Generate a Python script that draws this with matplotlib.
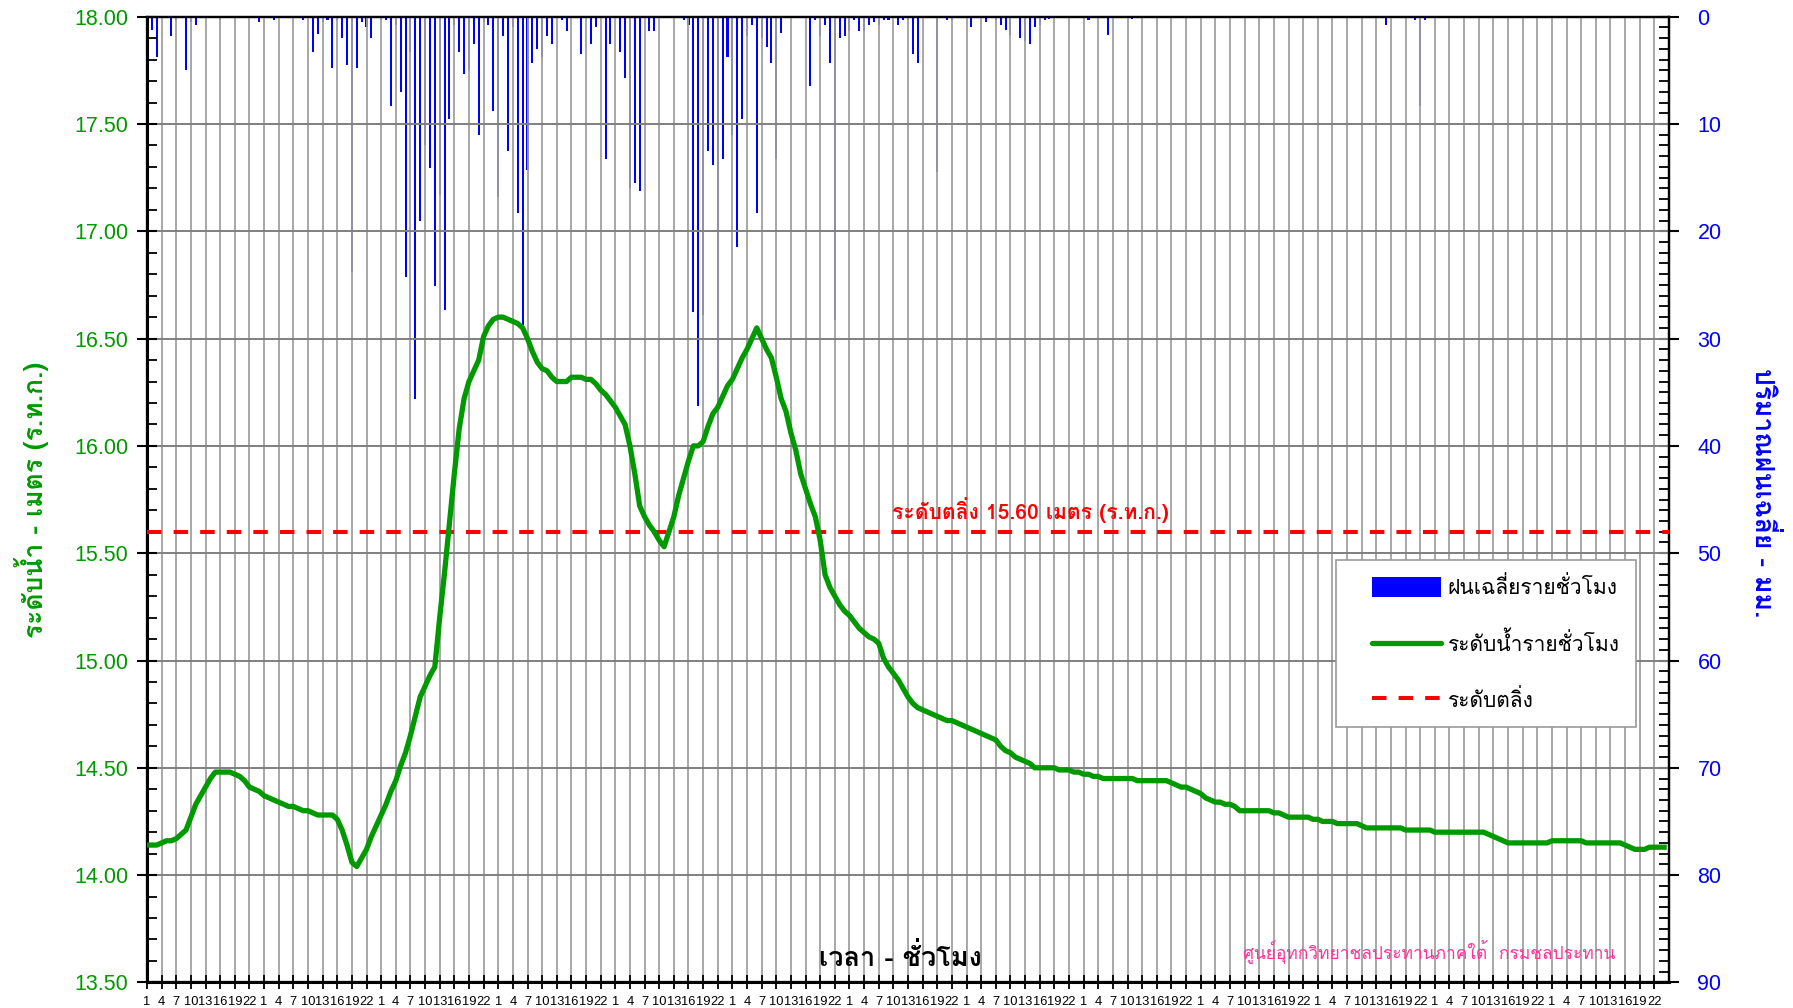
import matplotlib
matplotlib.use("Agg")
import matplotlib.pyplot as plt
from matplotlib import font_manager
from matplotlib.ft2font import FT2Font
from matplotlib.patches import Patch
from matplotlib.lines import Line2D
from matplotlib.legend_handler import HandlerPatch, HandlerLine2D
from matplotlib.ticker import MultipleLocator, FormatStrFormatter
import matplotlib.patheffects as pe
import numpy as np

# ---------------- data ----------------
hour_labels = ["1", "4", "7", "10", "13", "16", "19", "22"]
n_days = 13

level_d1 = [14.14, 14.14, 14.14, 14.15, 14.16, 14.16, 14.17, 14.19, 14.21, 14.27, 14.33, 14.37,
            14.41, 14.45, 14.48, 14.48, 14.48, 14.48, 14.47, 14.46, 14.44, 14.41, 14.40, 14.39]
level_d2 = [14.37, 14.36, 14.35, 14.34, 14.33, 14.32, 14.32, 14.31, 14.30, 14.30, 14.29, 14.28,
            14.28, 14.28, 14.28, 14.26, 14.21, 14.14, 14.06, 14.04, 14.08, 14.12, 14.18, 14.23]
level_d3 = [14.28, 14.33, 14.39, 14.44, 14.51, 14.57, 14.65, 14.74, 14.83, 14.88, 14.93, 14.97,
            15.20, 15.41, 15.64, 15.87, 16.08, 16.22, 16.30, 16.35, 16.40, 16.51, 16.56, 16.59]
level_d4 = [16.60, 16.60, 16.59, 16.58, 16.57, 16.55, 16.50, 16.44, 16.39, 16.36, 16.35, 16.32,
            16.30, 16.30, 16.30, 16.32, 16.32, 16.32, 16.31, 16.31, 16.29, 16.26, 16.24, 16.21]
level_d5 = [16.18, 16.14, 16.10, 16.00, 15.87, 15.72, 15.67, 15.63, 15.60, 15.56, 15.53, 15.60,
            15.67, 15.77, 15.85, 15.93, 16.00, 16.00, 16.02, 16.09, 16.15, 16.18, 16.23, 16.28]
level_d6 = [16.31, 16.36, 16.41, 16.45, 16.50, 16.55, 16.50, 16.45, 16.41, 16.32, 16.22, 16.16,
            16.06, 15.98, 15.87, 15.80, 15.73, 15.67, 15.56, 15.40, 15.34, 15.30, 15.26, 15.23]
level_d7 = [15.21, 15.18, 15.15, 15.13, 15.11, 15.10, 15.08, 15.01, 14.97, 14.94, 14.91, 14.87,
            14.83, 14.80, 14.78, 14.77, 14.76, 14.75, 14.74, 14.73, 14.72, 14.72, 14.71, 14.70]
level_d8 = [14.69, 14.68, 14.67, 14.66, 14.65, 14.64, 14.63, 14.60, 14.58, 14.57, 14.55, 14.54,
            14.53, 14.52, 14.50, 14.50, 14.50, 14.50, 14.50, 14.49, 14.49, 14.49, 14.48, 14.48]
level_d9 = [14.47, 14.47, 14.46, 14.46, 14.45, 14.45, 14.45, 14.45, 14.45, 14.45, 14.45, 14.44,
            14.44, 14.44, 14.44, 14.44, 14.44, 14.44, 14.43, 14.42, 14.41, 14.41, 14.40, 14.39]
level_d10 = [14.38, 14.36, 14.35, 14.34, 14.34, 14.33, 14.33, 14.32, 14.30, 14.30, 14.30, 14.30,
             14.30, 14.30, 14.30, 14.29, 14.29, 14.28, 14.27, 14.27, 14.27, 14.27, 14.27, 14.26]
level_d11 = [14.26, 14.25, 14.25, 14.25, 14.24, 14.24, 14.24, 14.24, 14.24, 14.23, 14.22, 14.22,
             14.22, 14.22, 14.22, 14.22, 14.22, 14.22, 14.21, 14.21, 14.21, 14.21, 14.21, 14.21]
level_d12 = [14.20, 14.20, 14.20, 14.20, 14.20, 14.20, 14.20, 14.20, 14.20, 14.20, 14.20, 14.19,
             14.18, 14.17, 14.16, 14.15, 14.15, 14.15, 14.15, 14.15, 14.15, 14.15, 14.15, 14.15]
level_d13 = [14.16, 14.16, 14.16, 14.16, 14.16, 14.16, 14.16, 14.15, 14.15, 14.15, 14.15, 14.15,
             14.15, 14.15, 14.15, 14.14, 14.13, 14.12, 14.12, 14.12, 14.13, 14.13, 14.13, 14.13]

rain_d1 = [6.8, 1.2, 3.8, 0, 0, 1.8, 0.3, 0, 5.0, 0.5, 0.8, 0,
           0, 0, 0, 0.3, 0, 0, 0, 0, 0, 0, 0, 0.5]
rain_d2 = [0, 0, 0.3, 0, 0, 0, 0, 0, 0.3, 0, 3.3, 1.6,
           0.5, 0.3, 4.8, 0.3, 2.0, 4.5, 23.8, 4.8, 0.5, 1.0, 2.0, 0]
rain_d3 = [0.3, 0.3, 8.3, 0.8, 7.0, 24.3, 3.3, 35.6, 19.0, 12.0, 14.1, 25.1,
           16.6, 27.3, 9.5, 0.8, 3.3, 5.3, 5.0, 2.5, 11.0, 0.5, 0.8, 8.8]
rain_d4 = [16.8, 1.8, 12.5, 1.0, 18.3, 28.7, 14.3, 4.3, 3.0, 3.8, 1.8, 2.5,
           0, 0.3, 1.3, 0, 0, 3.5, 0, 2.5, 1.0, 0, 13.3, 2.5]
rain_d5 = [0, 3.3, 5.7, 16.0, 15.5, 16.2, 0, 1.3, 1.3, 0, 0, 0,
           0, 0, 0.3, 0.8, 27.5, 36.3, 27.8, 12.5, 13.8, 39.6, 13.3, 3.8]
rain_d6 = [11.0, 21.5, 9.5, 1.8, 0.8, 18.3, 2.0, 2.8, 4.3, 13.3, 1.5, 0,
           0, 0, 0, 0, 6.5, 0.3, 1.8, 0.8, 4.3, 28.3, 2.0, 1.8]
rain_d7 = [1.3, 0.3, 1.3, 1.3, 0.8, 0.5, 0.8, 0.3, 0.3, 0, 0.8, 0.3,
           0.3, 3.5, 4.3, 0, 0, 0, 14.5, 0, 0.3, 0.3, 0, 0]
rain_d8 = [0, 1.0, 0, 0, 0.5, 0, 0.3, 0.8, 1.2, 1.7, 0, 2.0,
           2.3, 2.5, 1.0, 0.8, 0.3, 0.2, 0, 0, 0, 0, 0, 0]
rain_d9 = [0, 0.3, 0, 0, 0, 1.7, 0, 0, 0, 0, 0.2, 0,
           0, 0, 0, 0, 0, 0, 0, 0, 0, 0, 0, 0]
rain_d10 = [0] * 24
rain_d11 = [0, 0, 0, 0, 0, 0, 0, 0, 0, 0, 0, 0,
            0, 0, 0.8, 0, 0, 0, 0, 0, 0.3, 8.3, 0.3, 0]
rain_d12 = [0] * 24
rain_d13 = [0] * 24

bank_level = 15.60

level = (level_d1 + level_d2 + level_d3 + level_d4 + level_d5 + level_d6 + level_d7 +
         level_d8 + level_d9 + level_d10 + level_d11 + level_d12 + level_d13)
rain = (rain_d1 + rain_d2 + rain_d3 + rain_d4 + rain_d5 + rain_d6 + rain_d7 +
        rain_d8 + rain_d9 + rain_d10 + rain_d11 + rain_d12 + rain_d13)
hours = np.arange(len(level))

# ---------------- fonts ----------------
pref = ['Tahoma', 'Leelawadee UI', 'Loma', 'Garuda', 'Noto Sans Thai', 'Noto Sans Thai UI',
        'Sarabun', 'Waree', 'Umpush', 'Kinnari', 'Norasi', 'Laksaman', 'Sawasdee', 'TlwgTypo',
        'Purisa', 'Noto Serif Thai', 'FreeSans', 'FreeSerif', 'Arial Unicode MS']
cands = {}
for f in font_manager.fontManager.ttflist:
    try:
        cm = FT2Font(f.fname).get_charmap()
    except Exception:
        continue
    if 0x0E01 in cm and 0x0E49 in cm:
        w = f.weight
        if isinstance(w, str):
            w = 700 if 'bold' in w.lower() else 400
        cands.setdefault(f.name, set()).add(int(w))
order = [p for p in pref if p in cands] + sorted(n for n in cands if n not in pref)
bold_fams = [n for n in order if max(cands[n]) >= 600]
thai = bold_fams[0] if bold_fams else (order[0] if order else None)
has_bold = bool(bold_fams)
fam = ([thai] if thai else []) + ['Liberation Sans', 'DejaVu Sans']
plt.rcParams['font.family'] = fam


def boldtext(x, y, s, color, size, **kw):
    if has_bold:
        return fig.text(x, y, s, color=color, fontsize=size * 0.93, fontweight='bold', **kw)
    t = fig.text(x, y, s, color=color, fontsize=size, **kw)
    t.set_path_effects([pe.withStroke(linewidth=1.1, foreground=color)])
    return t


# ---------------- figure ----------------
W, H = 1793, 1008
fig = plt.figure(figsize=(W / 100, H / 100), dpi=100)
L, R, T, B = 147, 1669, 16.7, 982.4
ax = fig.add_axes([L / W, 1 - B / H, (R - L) / W, (B - T) / H])
ax2 = ax.twinx()
ax.set_zorder(ax2.get_zorder() + 1)
ax.patch.set_visible(False)

# rain bars (right axis, inverted)
ax2.bar(hours, rain, width=0.42, color='#0000ff', linewidth=0, zorder=2)
ax2.set_ylim(90, 0)
ax2.yaxis.set_major_locator(MultipleLocator(10))
ax2.yaxis.set_minor_locator(MultipleLocator(1))

# level
ax.plot(hours, level, color='#009900', lw=3.8, solid_joinstyle='round', zorder=5)
ax.axhline(bank_level, color='#ff0000', lw=2.9, linestyle=(0, (3.6, 3.0)), zorder=4)
ax.set_ylim(13.5, 18.0)
ax.set_xlim(0, len(level))
ax.yaxis.set_major_locator(MultipleLocator(0.5))
ax.yaxis.set_minor_locator(MultipleLocator(0.1))
ax.yaxis.set_major_formatter(FormatStrFormatter('%.2f'))

tick_pos = np.arange(0, len(level), 3)
tick_lab = hour_labels * n_days
ax.set_xticks(tick_pos)
ax.set_xticklabels(tick_lab[:len(tick_pos)], fontsize=9.3, family=['Liberation Sans'])
ax.tick_params(axis='x', direction='inout', length=10, width=1.3, pad=5, colors='black')

# grids
ax.grid(axis='y', which='major', color='#7f7f7f', lw=1.4, zorder=1)
ax.grid(axis='x', which='major', color='#a0a0a0', lw=1.3, zorder=1)
ax.set_axisbelow(True)

ax.tick_params(axis='y', which='major', direction='inout', length=15, width=1.5,
               labelsize=15.5, labelcolor='#009900', pad=6)
ax.tick_params(axis='y', which='minor', direction='in', length=7, width=1.3)
ax2.tick_params(axis='y', which='major', direction='inout', length=15, width=1.5,
                labelsize=15.5, labelcolor='#0000ff', pad=13)
ax2.tick_params(axis='y', which='minor', direction='in', length=7, width=1.3)
for a in (ax, ax2):
    for s in a.spines.values():
        s.set_linewidth(1.6)
        s.set_color('black')
ax.spines['left'].set_linewidth(2.2)
ax.spines['bottom'].set_linewidth(2.2)
for lab in ax.get_yticklabels() + ax2.get_yticklabels():
    lab.set_family(['Liberation Sans'])

# labels
boldtext(32 / W, 1 - 500 / H, 'ระดับน้ำ - เมตร (ร.ท.ก.)', '#009900', 20.5,
         rotation=90, ha='center', va='center')
boldtext(1764 / W, 1 - 493 / H, 'ปริมาณฝนเฉลี่ย - มม.', '#0000ff', 20.5,
         rotation=270, ha='center', va='center')
boldtext(900 / W, 1 - 957 / H, 'เวลา - ชั่วโมง', 'black', 21,
         ha='center', va='center')
fig.text(1429 / W, 1 - 951 / H, 'ศูนย์อุทกวิทยาชลประทานภาคใต้  กรมชลประทาน', color='#ff3399',
         fontsize=12.5, ha='center', va='center')
boldtext(1030 / W, 1 - 510 / H, 'ระดับตลิ่ง 15.60 เมตร (ร.ท.ก.)', '#ff0000', 16.3,
         ha='center', va='center')

handles = [Patch(facecolor='#0000ff', edgecolor='none'),
           Line2D([], [], color='#009900', lw=3.8, solid_capstyle='round'),
           Line2D([], [], color='#ff0000', lw=2.9, linestyle=(0, (3.6, 3.0)))]
labels = ['ฝนเฉลี่ยรายชั่วโมง', 'ระดับน้ำรายชั่วโมง', 'ระดับตลิ่ง']
hmap = {Patch: HandlerPatch(xpad=0.96), Line2D: HandlerLine2D(xpad=0.96)}
leg = ax.legend(handles, labels, loc='upper left',
                bbox_to_anchor=((1336 - L) / (R - L), (B - 560) / (B - T)),
                fontsize=15.1, frameon=True, fancybox=False, edgecolor='#999999', framealpha=1,
                handlelength=4.25, handleheight=1.05, labelspacing=1.6, borderpad=0.78,
                handletextpad=0.3, borderaxespad=0, handler_map=hmap)
leg.get_frame().set_linewidth(1.2)
leg.set_zorder(10)

fig.savefig('out.png', dpi=100)
